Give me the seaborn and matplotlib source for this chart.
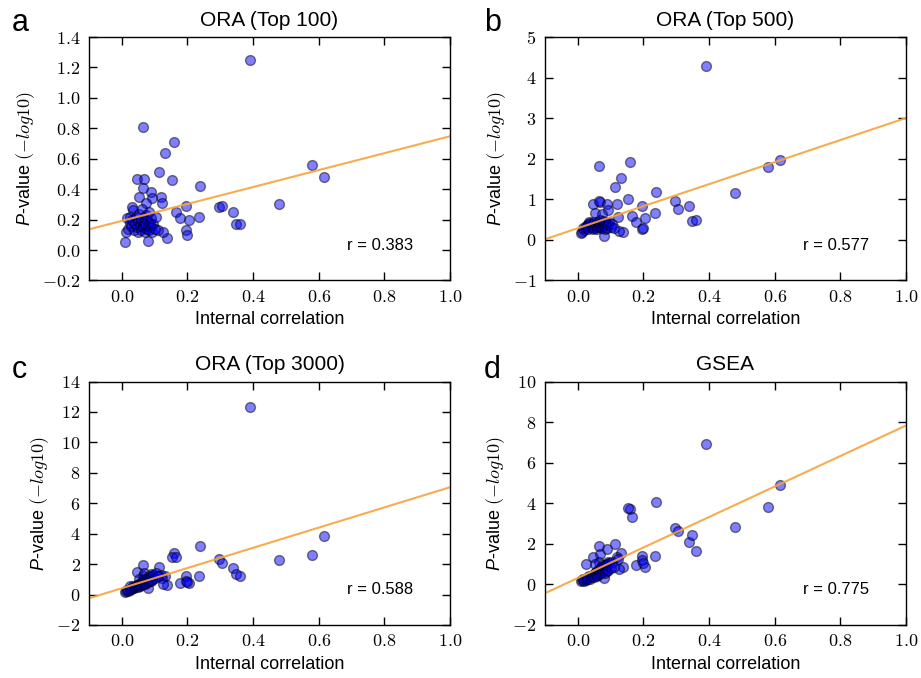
import numpy as np
import pandas as pd
import matplotlib
matplotlib.use("Agg")
import matplotlib.pyplot as plt
import seaborn as sns
from matplotlib.ticker import FuncFormatter

sns.set_style("ticks")
plt.rcParams['font.family'] = ['Liberation Sans', 'DejaVu Sans']
plt.rcParams['mathtext.fontset'] = 'custom'
plt.rcParams['mathtext.rm'] = 'cmr10'
plt.rcParams['mathtext.it'] = 'cmmi10'
plt.rcParams['mathtext.sf'] = 'Liberation Sans:italic'
plt.rcParams['mathtext.fallback'] = 'cm'
plt.rcParams['axes.formatter.use_mathtext'] = True
for key in ['text.color', 'axes.labelcolor', 'xtick.color', 'ytick.color', 'axes.edgecolor']:
    plt.rcParams[key] = 'black'

# internal correlation of each gene set (shared by all four panels)
internal_corr = [
    0.392, 0.066, 0.159, 0.132, 0.112, 0.152, 0.237, 0.295, 0.306, 0.338,
    0.349, 0.361, 0.478, 0.581, 0.615, 0.196, 0.165, 0.177, 0.206, 0.234,
    0.195, 0.198, 0.118, 0.123, 0.139, 0.126, 0.080, 0.011, 0.014, 0.030,
    0.035, 0.017, 0.047, 0.067, 0.065, 0.088, 0.053, 0.091, 0.073, 0.026,
    0.020, 0.024, 0.028, 0.032, 0.036, 0.040, 0.042, 0.045, 0.048, 0.050,
    0.053, 0.055, 0.058, 0.060, 0.062, 0.064, 0.066, 0.068, 0.070, 0.072,
    0.074, 0.076, 0.078, 0.080, 0.082, 0.084, 0.086, 0.088, 0.090, 0.093,
    0.096, 0.100, 0.105, 0.110,
]
ora_100 = [
    1.25, 0.81, 0.71, 0.64, 0.51, 0.46, 0.42, 0.28, 0.29, 0.25,
    0.17, 0.17, 0.30, 0.56, 0.48, 0.29, 0.25, 0.21, 0.20, 0.22,
    0.13, 0.10, 0.35, 0.31, 0.08, 0.12, 0.06, 0.05, 0.12, 0.28,
    0.26, 0.21, 0.47, 0.47, 0.41, 0.38, 0.35, 0.34, 0.31, 0.22,
    0.14, 0.18, 0.16, 0.20, 0.13, 0.17, 0.22, 0.15, 0.19, 0.12,
    0.24, 0.16, 0.20, 0.13, 0.27, 0.18, 0.15, 0.21, 0.12, 0.17,
    0.23, 0.14, 0.19, 0.16, 0.25, 0.13, 0.18, 0.15, 0.21, 0.12,
    0.17, 0.14, 0.22, 0.13,
]
ora_500 = [
    4.28, 1.81, 1.92, 1.52, 1.30, 1.02, 1.17, 0.95, 0.75, 0.83,
    0.46, 0.50, 1.15, 1.80, 1.97, 0.83, 0.60, 0.44, 0.55, 0.67,
    0.28, 0.30, 0.89, 0.56, 0.19, 0.22, 0.09, 0.17, 0.20, 0.40,
    0.45, 0.30, 0.89, 0.93, 0.95, 0.89, 0.66, 0.73, 0.63, 0.35,
    0.25, 0.30, 0.35, 0.28, 0.42, 0.32, 0.38, 0.26, 0.45, 0.30,
    0.36, 0.40, 0.33, 0.27, 0.44, 0.38, 0.31, 0.48, 0.35, 0.42,
    0.30, 0.39, 0.46, 0.34, 0.40, 0.28, 0.43, 0.36, 0.30, 0.38,
    0.45, 0.33, 0.40, 0.30,
]
ora_3000 = [
    12.3, 1.96, 2.70, 1.24, 1.78, 2.45, 3.22, 2.33, 2.05, 1.72,
    1.35, 1.24, 2.30, 2.62, 3.85, 1.24, 2.45, 0.74, 0.74, 1.24,
    0.90, 0.80, 1.30, 1.10, 0.65, 0.70, 0.40, 0.20, 0.25, 0.45,
    0.55, 0.30, 1.48, 1.40, 1.20, 1.35, 1.00, 1.00, 0.95, 0.55,
    0.22, 0.28, 0.35, 0.40, 0.45, 0.50, 0.55, 0.60, 0.48, 0.65,
    0.70, 0.58, 0.75, 0.62, 0.80, 0.90, 0.68, 0.85, 0.72, 1.00,
    0.78, 0.95, 1.10, 0.82, 1.05, 0.88, 1.15, 0.92, 1.25, 0.98,
    1.30, 1.08, 1.40, 1.20,
]
gsea = [
    6.93, 1.90, 3.71, 1.53, 1.98, 3.79, 4.07, 2.78, 2.65, 2.07,
    2.44, 1.63, 2.85, 3.80, 4.90, 1.42, 3.30, 0.98, 0.85, 1.39,
    1.21, 1.05, 1.37, 1.25, 0.85, 0.75, 0.30, 0.15, 0.20, 0.35,
    0.40, 0.25, 1.37, 1.50, 1.10, 1.73, 1.00, 1.10, 0.95, 1.01,
    0.18, 0.22, 0.25, 0.30, 0.28, 0.35, 0.40, 0.45, 0.50, 0.38,
    0.55, 0.60, 0.48, 0.42, 0.70, 0.65, 0.52, 0.75, 0.58, 0.80,
    0.62, 0.85, 0.70, 0.90, 0.78, 0.55, 0.95, 0.68, 1.00, 0.72,
    1.05, 0.82, 1.10, 0.88,
]

df = pd.DataFrame({'corr': internal_corr, 'ora100': ora_100, 'ora500': ora_500,
                   'ora3000': ora_3000, 'gsea': gsea})

panels = [
    ('a', 'ORA (Top 100)', 'ora100', 'r = 0.383', (-0.2, 1.4), np.arange(-0.2, 1.41, 0.2), '%.1f'),
    ('b', 'ORA (Top 500)', 'ora500', 'r = 0.577', (-1, 5), np.arange(-1, 6, 1), '%d'),
    ('c', 'ORA (Top 3000)', 'ora3000', 'r = 0.588', (-2, 14), np.arange(-2, 15, 2), '%d'),
    ('d', 'GSEA', 'gsea', 'r = 0.775', (-2, 10), np.arange(-2, 11, 2), '%d'),
]

fig, axes = plt.subplots(2, 2, figsize=(9.21, 6.78), dpi=100)
fig.subplots_adjust(left=0.0966, right=0.9837, top=0.9454, bottom=0.0782,
                    wspace=0.263, hspace=0.415)

letter_pos = {'a': (12, 31), 'b': (484, 31), 'c': (12, 378), 'd': (484, 378)}

for ax, (letter, title, col, rtext, ylim, yticks, fmt) in zip(axes.flat, panels):
    ax.set_xlim(-0.1, 1.0)
    ax.set_ylim(*ylim)
    sns.regplot(data=df, x='corr', y=col, ax=ax, ci=None, truncate=False,
                scatter_kws=dict(s=50, color='blue', edgecolor='black',
                                 linewidths=1, alpha=0.5),
                line_kws=dict(color='#f7a33c', lw=1.5, alpha=0.9))
    ax.set_xlim(-0.1, 1.0)
    ax.set_ylim(*ylim)
    ax.set_xticks(np.arange(0, 1.01, 0.2))
    ax.set_yticks(yticks)
    ax.xaxis.set_major_formatter(FuncFormatter(lambda v, p: r'$%.1f$' % v))
    ax.yaxis.set_major_formatter(FuncFormatter(lambda v, p, f=fmt: r'$%s$' % (f % v)))
    ax.tick_params(direction='in', length=6, width=1, top=True, right=True,
                   labelsize=13, color='black', labelcolor='black', pad=6)
    for s in ax.spines.values():
        s.set_linewidth(1)
        s.set_color('black')
    ax.set_title(title, fontsize=15, pad=8)
    ax.set_xlabel('Internal correlation', fontsize=13, labelpad=4)
    ax.set_ylabel(r'$\mathsf{P}$-value $(-log10)$', fontsize=13, labelpad=4)
    ax.text(0.897, 0.145, rtext, transform=ax.transAxes, ha='right', va='center',
            fontsize=12)
    lx, ly = letter_pos[letter]
    fig.text(lx / 921, 1 - ly / 678, letter, fontsize=22, ha='left', va='baseline')

fig.savefig('out.png', dpi=100)
